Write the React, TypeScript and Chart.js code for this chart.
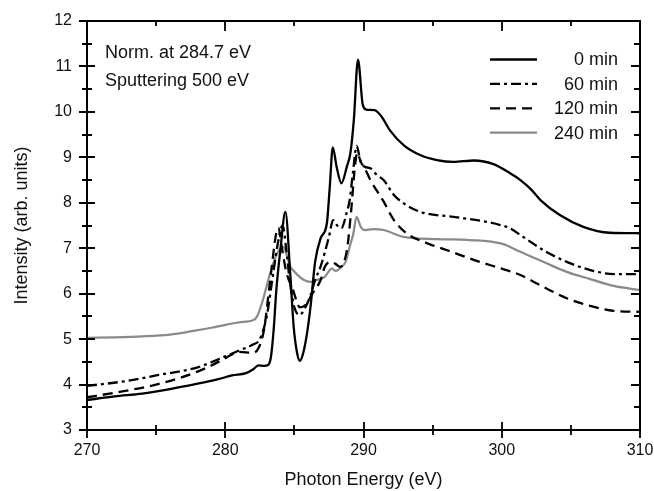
import React, { useEffect, useRef } from 'react';
import { Chart, registerables } from 'chart.js';

Chart.register(...registerables);

// ---------- data ----------
const seriesLabels = ['0 min', '60 min', '120 min', '240 min'];

const energy0 = [270, 272, 274, 276, 278, 279.5, 280.5, 281.5, 282.0, 282.4, 282.8, 283.1, 283.3, 283.5, 283.7, 284.0, 284.35, 284.7, 284.95, 285.2, 285.4, 285.6, 285.9, 286.2, 286.5, 286.9, 287.35, 287.55, 287.78, 288.05, 288.4, 288.8, 289.05, 289.3, 289.6, 289.95, 290.2, 290.8, 291.3, 291.9, 292.9, 294.1, 295.3, 296.5, 298.0, 299.4, 300.6, 301.35, 302.1, 302.8, 304.2, 305.9, 307.8, 310];
const intensity0 = [3.66, 3.74, 3.8, 3.9, 4.02, 4.12, 4.2, 4.25, 4.33, 4.42, 4.41, 4.43, 4.6, 5.2, 6.1, 7.0, 7.8, 6.45, 5.27, 4.69, 4.52, 4.65, 5.1, 5.8, 6.7, 7.22, 7.55, 8.3, 9.22, 8.8, 8.43, 8.8, 9.09, 9.82, 11.15, 10.15, 10.05, 10.04, 9.9, 9.6, 9.27, 9.05, 8.94, 8.9, 8.93, 8.85, 8.65, 8.5, 8.3, 8.06, 7.73, 7.47, 7.34, 7.33];

const energy60 = [270, 272.9, 275, 278, 280, 281, 282, 282.5, 283, 283.4, 283.8, 284.15, 284.4, 284.7, 285.0, 285.35, 285.8, 286.15, 286.5, 286.9, 287.5, 287.8, 288.1, 288.4, 288.8, 289.0, 289.25, 289.5, 289.8, 290.1, 290.5, 290.97, 291.45, 292.2, 292.9, 294.1, 296.5, 298.9, 299.9, 300.6, 301.35, 303.0, 304.7, 306.4, 308.1, 310];
const intensity60 = [3.97, 4.08, 4.2, 4.38, 4.62, 4.75, 4.88, 5.0, 5.5, 6.3, 7.1, 7.5, 7.0, 6.2, 5.7, 5.53, 5.7, 5.95, 6.3, 6.6, 7.25, 7.62, 7.5, 7.44, 7.8, 8.06, 8.7, 9.25, 8.9, 8.79, 8.76, 8.61, 8.5, 8.17, 7.99, 7.8, 7.69, 7.58, 7.51, 7.44, 7.29, 6.96, 6.7, 6.52, 6.43, 6.43];

const energy120 = [270, 272, 275, 277.7, 279, 280, 281, 282, 282.4, 282.8, 283.25, 283.7, 283.85, 284.1, 284.4, 284.9, 285.4, 285.8, 286.3, 286.9, 287.2, 287.6, 288.0, 288.3, 288.8, 289.1, 289.35, 289.55, 289.8, 290.1, 290.5, 291.45, 292.2, 293.1, 294.6, 296.0, 298.4, 300.0, 301.35, 303.0, 304.7, 306.4, 308.1, 310];
const intensity120 = [3.72, 3.82, 4.0, 4.25, 4.42, 4.58, 4.72, 4.7, 4.8, 5.2, 6.3, 7.35, 7.45, 7.0, 6.5, 6.08, 5.7, 5.75, 6.0, 6.3, 6.59, 6.7, 6.65, 6.59, 6.96, 7.8, 8.7, 9.1, 8.9, 8.75, 8.5, 8.03, 7.62, 7.33, 7.11, 6.96, 6.7, 6.55, 6.41, 6.15, 5.9, 5.73, 5.62, 5.6];

const energy240 = [270, 272, 274, 276, 277.7, 279, 280.1, 281, 282.05, 282.3, 282.65, 283.25, 283.7, 284.0, 284.2, 284.45, 284.7, 284.9, 285.2, 285.7, 286.15, 286.6, 287.2, 287.7, 288.0, 288.3, 288.7, 289.0, 289.25, 289.5, 289.8, 290.1, 290.7, 291.45, 292.9, 295.3, 297.7, 300.0, 301.35, 303.0, 304.7, 306.4, 308.1, 310];
const intensity240 = [5.03, 5.04, 5.06, 5.1, 5.18, 5.25, 5.32, 5.37, 5.42, 5.5, 5.79, 6.45, 6.85, 7.0, 7.03, 6.85, 6.6, 6.52, 6.42, 6.3, 6.26, 6.3, 6.37, 6.55, 6.5, 6.56, 6.7, 7.03, 7.3, 7.69, 7.47, 7.4, 7.42, 7.4, 7.25, 7.2, 7.18, 7.1, 6.92, 6.7, 6.48, 6.32, 6.17, 6.08];

const xTickValues = [270, 280, 290, 300, 310];
const yTickValues = [3, 4, 5, 6, 7, 8, 9, 10, 11, 12];
const noteLines = ['Norm. at 284.7 eV', 'Sputtering 500 eV'];
const xTitle = 'Photon Energy (eV)';
const yTitle = 'Intensity (arb. units)';

// ---------- styles ----------
const FONT = '"Liberation Sans", Arial, Helvetica, sans-serif';
const TEXT = '#111';
const lineColors = ['#000000', '#000000', '#000000', '#8a8a8a'];
const lineDashes: number[][] = [[], [10, 4, 3, 4], [10, 6], []];

const allEnergies = [energy0, energy60, energy120, energy240];
const allIntensities = [intensity0, intensity60, intensity120, intensity240];

const framePlugin = {
  id: 'frameTicksLegend',
  afterDatasetsDraw(chart: any) {
    const { ctx, chartArea } = chart;
    const { left, right, top, bottom } = chartArea;
    const xs = chart.scales.x;
    const ys = chart.scales.y;
    ctx.save();
    ctx.strokeStyle = '#000';
    ctx.lineWidth = 2;
    ctx.setLineDash([]);
    ctx.strokeRect(left, top, right - left, bottom - top);

    ctx.lineWidth = 1.8;
    const xMin = xTickValues[0];
    const xMax = xTickValues[xTickValues.length - 1];
    for (let v = xMin; v <= xMax + 1e-6; v += 5) {
      const p = Math.round(xs.getPixelForValue(v));
      const major = Math.abs(v % 10) < 1e-6;
      const half = major ? 8 : 5;
      ctx.beginPath();
      ctx.moveTo(p, bottom - half);
      ctx.lineTo(p, bottom + half);
      ctx.moveTo(p, top);
      ctx.lineTo(p, top + (major ? 10 : 5));
      ctx.stroke();
    }
    const yMin = yTickValues[0];
    const yMax = yTickValues[yTickValues.length - 1];
    for (let v = yMin; v <= yMax + 1e-6; v += 0.5) {
      const p = Math.round(ys.getPixelForValue(v));
      const major = Math.abs(v - Math.round(v)) < 1e-6;
      const half = major ? 8 : 5;
      ctx.beginPath();
      ctx.moveTo(left - half, p);
      ctx.lineTo(left + half, p);
      ctx.moveTo(right, p);
      ctx.lineTo(right - (major ? 9 : 6), p);
      ctx.stroke();
    }

    ctx.fillStyle = TEXT;
    ctx.font = `18px ${FONT}`;
    ctx.textAlign = 'left';
    ctx.textBaseline = 'alphabetic';
    noteLines.forEach((t, i) => {
      ctx.fillText(t, 105, 58 + i * 28.4);
    });

    const rowY0 = 59.5;
    const rowStep = 24.4;
    chart.data.datasets.forEach((ds: any, i: number) => {
      const yy = rowY0 + i * rowStep;
      ctx.beginPath();
      ctx.strokeStyle = ds.borderColor;
      ctx.lineWidth = ds.borderWidth;
      ctx.setLineDash(ds.borderDash || []);
      ctx.moveTo(490, yy);
      ctx.lineTo(537, yy);
      ctx.stroke();
      ctx.setLineDash([]);
      ctx.fillStyle = TEXT;
      ctx.textAlign = 'right';
      ctx.textBaseline = 'middle';
      ctx.fillText(ds.label, 618, yy + 1);
    });
    ctx.restore();
  },
};

export default function App() {
  const ref = useRef<HTMLCanvasElement | null>(null);
  useEffect(() => {
    if (!ref.current) return;
    const datasets = seriesLabels.map((label, i) => ({
      label,
      data: allEnergies[i].map((e, k) => ({ x: e, y: allIntensities[i][k] })),
      borderColor: lineColors[i],
      backgroundColor: lineColors[i],
      borderWidth: i === 3 ? 2.2 : 2.3,
      borderDash: lineDashes[i],
      pointRadius: 0,
      fill: false,
      cubicInterpolationMode: 'monotone' as const,
    }));
    const chart = new Chart(ref.current, {
      type: 'line',
      data: { datasets },
      options: {
        animation: false,
        responsive: false,
        events: [],
        layout: { padding: { top: 21, right: 14, left: 0, bottom: 0 } },
        plugins: { legend: { display: false }, tooltip: { enabled: false } },
        scales: {
          x: {
            type: 'linear',
            min: xTickValues[0],
            max: xTickValues[xTickValues.length - 1],
            afterFit: (s: any) => { s.height = 61; s.paddingLeft = 0; s.paddingRight = 0; },
            afterBuildTicks: (s: any) => { s.ticks = xTickValues.map((v) => ({ value: v })); },
            grid: { display: false, drawTicks: false, tickLength: 0 },
            border: { display: false },
            ticks: {
              padding: 11,
              maxRotation: 0,
              autoSkip: false,
              color: TEXT,
              font: { family: FONT, size: 16 },
              callback: (v: any) => String(v),
            },
            title: {
              display: true,
              text: xTitle,
              color: TEXT,
              font: { family: FONT, size: 18 },
              padding: { top: 0, bottom: 0 },
            },
          },
          y: {
            type: 'linear',
            min: yTickValues[0],
            max: yTickValues[yTickValues.length - 1],
            afterFit: (s: any) => { s.width = 87; s.paddingTop = 0; s.paddingBottom = 0; },
            afterBuildTicks: (s: any) => { s.ticks = yTickValues.map((v) => ({ value: v })); },
            grid: { display: false, drawTicks: false, tickLength: 0 },
            border: { display: false },
            ticks: {
              padding: 15,
              autoSkip: false,
              color: TEXT,
              font: { family: FONT, size: 16 },
              callback: (v: any) => String(v),
            },
            title: {
              display: true,
              text: yTitle,
              color: TEXT,
              font: { family: FONT, size: 18 },
              padding: { top: 11, bottom: 0 },
            },
          },
        },
      },
      plugins: [framePlugin],
    });
    return () => chart.destroy();
  }, []);
  return (
    <div style={{ position: 'fixed', left: 0, top: 0, width: 654, height: 491, background: '#fff' }}>
      <canvas ref={ref} width={654} height={491} style={{ display: 'block' }} />
    </div>
  );
}
